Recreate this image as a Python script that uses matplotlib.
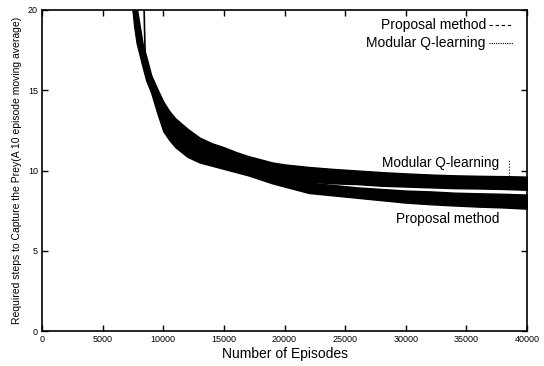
import matplotlib
matplotlib.use("Agg")
import matplotlib.pyplot as plt
import numpy as np

# ---- data (band envelopes of the noisy curves) ----
episodes = [7400, 7600, 7800, 8000, 8300, 8600, 9000, 9500, 10000, 10500,
            11000, 12000, 13000, 14000, 15000, 16000, 17000, 18000, 19000,
            20000, 22000, 24000, 26000, 28000, 30000, 32000, 34000, 36000,
            38000, 40000]

modular_hi = [21.0, 21.0, 20.2, 19.3, 17.9, 17.1, 15.95, 15.1, 14.3, 13.7,
              13.25, 12.6, 12.05, 11.7, 11.45, 11.15, 10.9, 10.7, 10.5,
              10.38, 10.22, 10.1, 10.0, 9.9, 9.82, 9.75, 9.7, 9.67, 9.65, 9.62]
modular_lo = [20.6, 19.4, 18.6, 17.9, 16.9, 16.1, 15.2, 14.0, 13.2, 12.5,
              12.0, 11.4, 11.0, 10.7, 10.45, 10.25, 10.0, 9.8, 9.6,
              9.45, 9.3, 9.2, 9.15, 9.05, 9.0, 8.95, 8.9, 8.88, 8.85, 8.8]
proposal_hi = [20.9, 20.5, 19.6, 18.8, 17.4, 16.6, 15.6, 14.6, 13.7, 13.1,
               12.6, 12.1, 11.6, 11.25, 10.95, 10.7, 10.45, 10.25, 10.0,
               9.8, 9.25, 9.1, 8.95, 8.85, 8.75, 8.7, 8.62, 8.58, 8.55, 8.5]
proposal_lo = [20.5, 19.0, 17.95, 17.35, 16.45, 15.6, 14.85, 13.6, 12.45, 11.9,
               11.45, 10.85, 10.5, 10.3, 10.1, 9.9, 9.7, 9.45, 9.2,
               9.0, 8.6, 8.45, 8.3, 8.15, 8.0, 7.9, 7.82, 7.75, 7.7, 7.62]

# thin separated trace near the top and an isolated spike
sep_x = [8400, 8450, 8500, 8560]
sep_y = [21.0, 19.0, 17.5, 16.3]
spike_x = [38500, 38500]
spike_y = [9.3, 10.7]

xticks = [0, 5000, 10000, 15000, 20000, 25000, 30000, 35000, 40000]
yticks = [0, 5, 10, 15, 20]

plt.rcParams['font.family'] = ['Liberation Sans', 'DejaVu Sans']

fig = plt.figure(figsize=(5.44, 3.66), dpi=100)
ax = fig.add_axes([0.0772, 0.0956, 0.8916, 0.8771])

ax.fill_between(episodes, modular_lo, modular_hi, color='black', lw=1.0,
                edgecolor='black')
ax.fill_between(episodes, proposal_lo, proposal_hi, color='black', lw=1.0,
                edgecolor='black')
ax.plot(sep_x, sep_y, color='black', lw=1.2)
ax.plot(spike_x, spike_y, color='black', lw=0.8, ls=':')

ax.set_xlim(0, 40000)
ax.set_ylim(0, 20)
ax.set_xticks(xticks)
ax.set_yticks(yticks)
ax.set_xticklabels([str(t) for t in xticks], fontsize=6.5)
ax.set_yticklabels([str(t) for t in yticks], fontsize=6.5)
ax.tick_params(direction='in', length=4, width=1, top=True, right=True, pad=3)
for s in ax.spines.values():
    s.set_linewidth(1.2)

ax.set_xlabel('Number of Episodes', fontsize=10, labelpad=2)
ax.set_ylabel('Required steps to Capture the Prey(A 10 episode moving average)',
              fontsize=7.5, labelpad=4)

# curve annotations
ax.text(37700, 10.47, 'Modular Q-learning', fontsize=9.8, ha='right', va='center')
ax.text(37700, 6.98, 'Proposal method', fontsize=9.8, ha='right', va='center')

# legend (drawn manually, key after text)
ax.text(0.915, 0.953, 'Proposal method', transform=ax.transAxes, fontsize=10,
        ha='right', va='center')
ax.text(0.915, 0.897, 'Modular Q-learning', transform=ax.transAxes, fontsize=10,
        ha='right', va='center')
ax.plot([0.922, 0.971], [0.953, 0.953], transform=ax.transAxes, color='black',
        lw=0.8, ls=(0, (3, 2.5)))
ax.plot([0.922, 0.971], [0.897, 0.897], transform=ax.transAxes, color='black',
        lw=0.8, ls=(0, (1, 1)))

fig.savefig('out.png', dpi=100)
